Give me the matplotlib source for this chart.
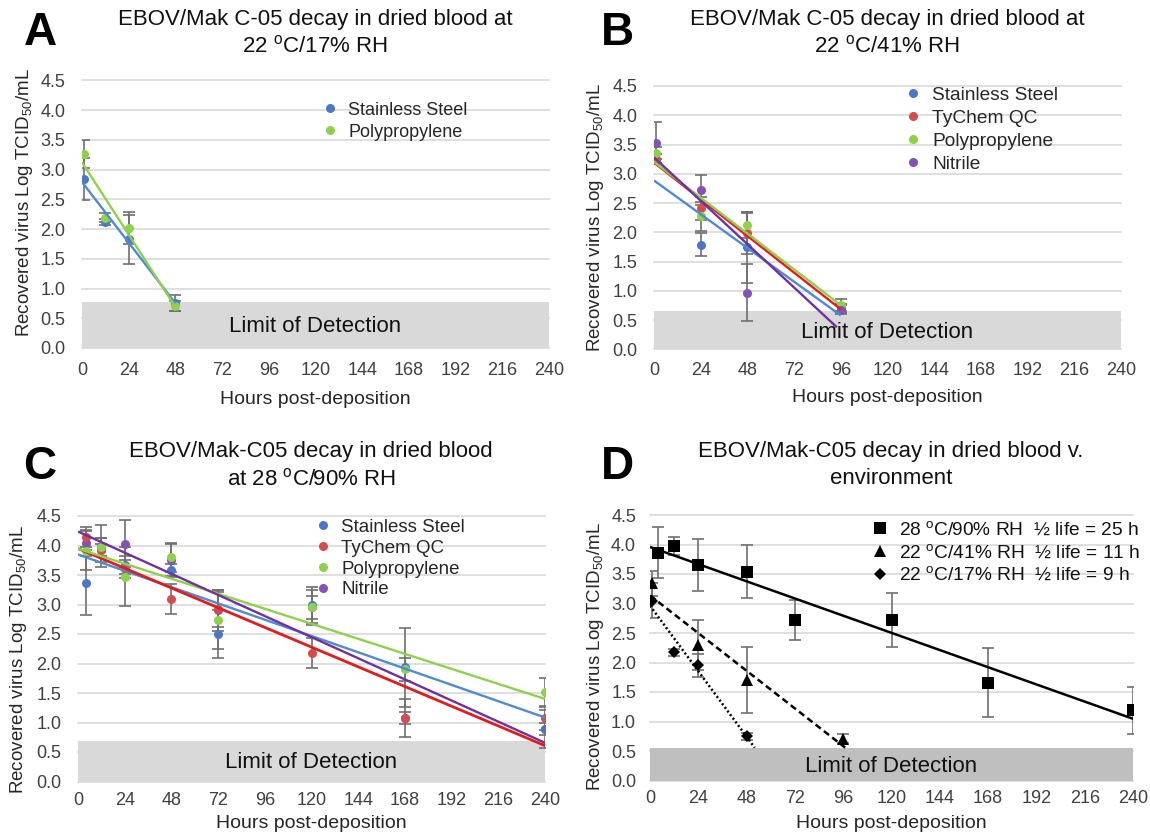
import numpy as np
import matplotlib
matplotlib.use("Agg")
import matplotlib.pyplot as plt

plt.rcParams['font.family'] = ['Liberation Sans', 'DejaVu Sans']
plt.rcParams['mathtext.fontset'] = 'custom'
plt.rcParams['mathtext.rm'] = 'Liberation Sans'
plt.rcParams['mathtext.it'] = 'Liberation Sans:italic'
plt.rcParams['mathtext.bf'] = 'Liberation Sans:bold'

# ---------------- data ----------------
x_ticks = [0, 24, 48, 72, 96, 120, 144, 168, 192, 216, 240]
y_ticks = [0.0, 0.5, 1.0, 1.5, 2.0, 2.5, 3.0, 3.5, 4.0, 4.5]

# Panel A: 22 C / 17% RH
hours_A = [1, 12, 24, 48]
A_steel = [2.84, 2.12, 1.83, 0.76]
A_steel_err = [0.36, 0.05, 0.41, 0.13]
A_poly = [3.26, 2.19, 2.02, 0.71]
A_poly_err = [0.24, 0.08, 0.27, 0.08]
lod_A = 0.77

# Panel B: 22 C / 41% RH
hours_B = [1, 24, 48, 96]
B_steel = [3.25, 1.79, 1.74, 0.70]
B_steel_err = [0.08, 0.20, 0.60, 0.08]
B_tychem = [3.26, 2.41, 1.98, 0.70]
B_tychem_err = [0.08, 0.20, 0.35, 0.08]
B_poly = [3.35, 2.27, 2.12, 0.76]
B_poly_err = [0.10, 0.25, 0.22, 0.10]
B_nitrile = [3.53, 2.72, 0.97, 0.68]
B_nitrile_err = [0.35, 0.26, 0.48, 0.08]
lod_B = 0.65

# Panel C: 28 C / 90% RH
hours_C = [4, 12, 24, 48, 72, 120, 168, 240]
C_steel = [3.37, 3.92, 3.67, 3.58, 2.50, 2.99, 1.94, 0.89]
C_steel_err = [0.55, 0.20, 0.15, 0.10, 0.40, 0.30, 0.67, 0.32]
C_tychem = [4.15, 3.93, 3.60, 3.09, 2.92, 2.18, 1.07, 1.07]
C_tychem_err = [0.17, 0.10, 0.15, 0.25, 0.30, 0.26, 0.32, 0.20]
C_poly = [3.91, 3.98, 3.47, 3.80, 2.74, 2.95, 1.90, 1.52]
C_poly_err = [0.33, 0.15, 0.50, 0.25, 0.50, 0.30, 0.20, 0.24]
C_nitrile = [4.05, 3.99, 4.03, 3.75, 2.90, 2.95, 1.07, 0.89]
C_nitrile_err = [0.22, 0.35, 0.40, 0.28, 0.35, 0.20, 0.10, 0.10]
lod_C = 0.69

# Panel D: environments
hours_D28 = [4, 12, 24, 48, 72, 120, 168, 240]
D28 = [3.86, 3.98, 3.65, 3.54, 2.72, 2.72, 1.66, 1.19]
D28_err = [0.43, 0.15, 0.44, 0.45, 0.34, 0.45, 0.58, 0.40]
hours_D41 = [1, 24, 48, 96]
D41 = [3.34, 2.30, 1.70, 0.71]
D41_err = [0.21, 0.42, 0.56, 0.08]
hours_D17 = [1, 12, 24, 48]
D17 = [3.05, 2.17, 1.95, 0.75]
D17_err = [0.30, 0.06, 0.20, 0.06]
lod_D = 0.55
D_labels = [r"28 $^{\rm o}$C/90% RH  ½ life = 25 h",
            r"22 $^{\rm o}$C/41% RH  ½ life = 11 h",
            r"22 $^{\rm o}$C/17% RH  ½ life = 9 h"]

materials = ["Stainless Steel", "TyChem QC", "Polypropylene", "Nitrile"]

# ---------------- style ----------------
W, H = 1150, 835
BLUE_M, BLUE_L = '#4a78c6', '#4f8ad4'
RED_M, RED_L = '#d44c4c', '#e01c1c'
GREEN_M, GREEN_L = '#8fd04c', '#8fd04c'
PURPLE_M, PURPLE_L = '#8452b4', '#7030a0'
GRID = '#d9d9d9'
TICKC = '#404040'
ERRC = '#707070'

fig = plt.figure(figsize=(W / 100, H / 100), dpi=100)


def make_ax(x0, x240, y0, y45, xpad, ypad):
    ax = fig.add_axes([x0 / W, 1 - y0 / H, (x240 - x0) / W, (y0 - y45) / H])
    ax.set_xlim(0, 240)
    ax.set_ylim(0, 4.5)
    ax.set_xticks(x_ticks)
    ax.set_yticks(y_ticks)
    ax.set_yticklabels([f"{v:.1f}" for v in y_ticks])
    for s in ax.spines.values():
        s.set_visible(False)
    ax.tick_params(length=0, labelsize=13, colors=TICKC)
    ax.tick_params(axis='x', pad=xpad)
    ax.tick_params(axis='y', pad=ypad)
    for v in y_ticks:
        ax.axhline(v, color=GRID, lw=1.2, zorder=1, clip_on=False)
    return ax


def fit_line(ax, x, y, x_end, color, lw=1.7, ls='-', x_start=0):
    k, b = np.polyfit(x, y, 1)
    xx = np.array([x_start, x_end])
    ax.plot(xx, k * xx + b, color=color, lw=lw, ls=ls, zorder=5,
            solid_capstyle='butt')


def series(ax, x, y, e, mcolor, label, marker='o', ms=6.5, z=4):
    ax.errorbar(x, y, yerr=e, fmt='none', ecolor=ERRC, elinewidth=1.2,
                capsize=4, capthick=1.2, zorder=3)
    ax.plot(x, y, marker=marker, ls='none', color=mcolor, ms=ms, zorder=z,
            label=label, markeredgewidth=0)


def band(ax, lod, color='#d9d9d9', z=0.8):
    ax.axhspan(0, lod, color=color, zorder=z, lw=0)
    ax.text(120, lod / 2 - 0.03, "Limit of Detection", ha='center', va='center',
            fontsize=16, color='#111111', zorder=6)


def labels(ax, ylab_xy, xlab_xy):
    fig.text(ylab_xy[0] / W, 1 - ylab_xy[1] / H, r"Recovered virus Log TCID$_{50}$/mL",
             rotation=90, ha='center', va='center', fontsize=13.5, color='#262626')
    fig.text(xlab_xy[0] / W, 1 - xlab_xy[1] / H, "Hours post-deposition",
             ha='center', va='center', fontsize=14, color='#262626')


def title(cx, y1, y2, l1, l2, fs=16):
    fig.text(cx / W, 1 - y1 / H, l1, ha='center', va='center', fontsize=fs, color='#111111')
    fig.text(cx / W, 1 - y2 / H, l2, ha='center', va='center', fontsize=fs, color='#111111')


def letter(x, y, s):
    fig.text(x / W, 1 - y / H, s, ha='center', va='center', fontsize=33,
             fontweight='bold', color='black')


def legend(ax, x, y, fs, sp, handles=None, labels_=None, color='#262626', tp=0.5):
    kw = dict(loc='upper left', bbox_to_anchor=(x, y), frameon=False,
              handlelength=1.0, handletextpad=tp, borderpad=0, borderaxespad=0,
              labelspacing=sp, fontsize=fs, labelcolor=color)
    if handles is None:
        ax.legend(**kw)
    else:
        ax.legend(handles, labels_, **kw)


# ---------------- Panel A ----------------
axA = make_ax(82, 549, 348, 80.3, xpad=10, ypad=12)
band(axA, lod_A)
series(axA, hours_A, A_steel, A_steel_err, BLUE_M, materials[0])
series(axA, hours_A, A_poly, A_poly_err, GREEN_M, materials[2])
fit_line(axA, hours_A, A_steel, max(hours_A), BLUE_L)
fit_line(axA, hours_A, A_poly, max(hours_A), GREEN_L)
legend(axA, 0.512, 0.92, 13, 0.28)
title(315, 19, 46, "EBOV/Mak C-05 decay in dried blood at", r"22 $^{\rm o}$C/17% RH")
labels(axA, (25, 203), (315, 399))
letter(40, 33, "A")

# ---------------- Panel B ----------------
axB = make_ax(654, 1121, 349.3, 86, xpad=9, ypad=12)
band(axB, lod_B)
series(axB, hours_B, B_steel, B_steel_err, BLUE_M, materials[0])
series(axB, hours_B, B_tychem, B_tychem_err, RED_M, materials[1])
series(axB, hours_B, B_poly, B_poly_err, GREEN_M, materials[2])
series(axB, hours_B, B_nitrile, B_nitrile_err, PURPLE_M, materials[3])
fit_line(axB, hours_B, B_steel, max(hours_B), BLUE_L)
fit_line(axB, hours_B, B_tychem, max(hours_B), RED_L)
fit_line(axB, hours_B, B_poly, max(hours_B), GREEN_L)
fit_line(axB, hours_B, B_nitrile, max(hours_B) - 2, PURPLE_L)
legend(axB, 0.534, 0.999, 13.8, 0.3)
title(887, 19, 46, "EBOV/Mak C-05 decay in dried blood at", r"22 $^{\rm o}$C/41% RH")
labels(axB, (595, 218), (887, 398))
letter(617, 33, "B")

# ---------------- Panel C ----------------
axC = make_ax(78, 545, 781.5, 516, xpad=7.6, ypad=12)
band(axC, lod_C)
series(axC, hours_C, C_nitrile, C_nitrile_err, PURPLE_M, materials[3], z=3.5)
series(axC, hours_C, C_steel, C_steel_err, BLUE_M, materials[0])
series(axC, hours_C, C_tychem, C_tychem_err, RED_M, materials[1])
series(axC, hours_C, C_poly, C_poly_err, GREEN_M, materials[2])
fit_line(axC, hours_C, C_steel, max(hours_C), BLUE_L)
fit_line(axC, hours_C, C_tychem, max(hours_C), RED_L, lw=2.0)
fit_line(axC, hours_C, C_poly, max(hours_C), GREEN_L)
fit_line(axC, hours_C, C_nitrile, max(hours_C), PURPLE_L)
h, l = axC.get_legend_handles_labels()
order = [l.index(m) for m in materials]
legend(axC, 0.504, 0.99, 13.5, 0.2, [h[i] for i in order], [l[i] for i in order])
title(311, 452, 479, "EBOV/Mak-C05 decay in dried blood", r"at 28 $^{\rm o}$C/90% RH")
labels(axC, (19, 660), (311, 824))
letter(40, 467, "C")

# ---------------- Panel D ----------------
axD = make_ax(650, 1133, 780.5, 515, xpad=7, ypad=10)
band(axD, lod_D, color='#bfbfbf', z=1.2)
series(axD, hours_D28, D28, D28_err, 'black', D_labels[0], marker='s', ms=9)
series(axD, hours_D41, D41, D41_err, 'black', D_labels[1], marker='^', ms=9)
series(axD, hours_D17, D17, D17_err, 'black', D_labels[2], marker='D', ms=6.5)
fit_line(axD, hours_D28, D28, max(hours_D28), 'black', lw=1.8)
fit_line(axD, hours_D41, D41, max(hours_D41) + 1, 'black', lw=1.8, ls=(0, (2.6, 1.6)))
fit_line(axD, hours_D17, D17, max(hours_D17) + 4, 'black', lw=1.8, ls=(0, (0.8, 1.0)))
legend(axD, 0.457, 0.975, 13.8, 0.27, color='#111111', tp=0.45)
title(891, 452, 479, "EBOV/Mak-C05 decay in dried blood v.", "environment")
labels(axD, (595, 657), (891, 824))
letter(617, 467, "D")

fig.savefig("out.png", dpi=100, facecolor='white')
